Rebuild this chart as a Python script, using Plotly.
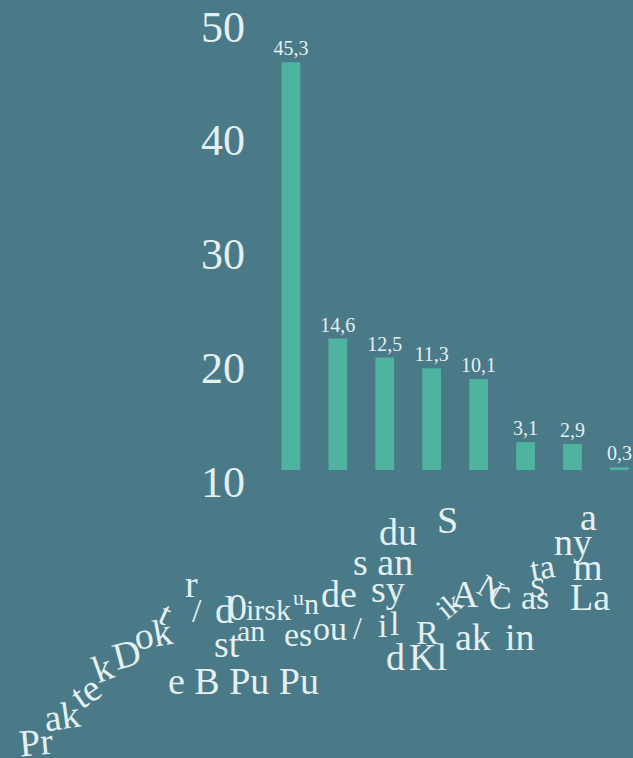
import plotly.graph_objects as go

# Outpatient care by type of facility (%)
categories = [
    "Praktek Dokter / Bidan",
    "Puskesmas / Pustu",
    "Poskesdes / Polindes",
    "Posyandu",
    "Rumah Sakit",
    "Klinik",
    "Praktek Nakes",
    "Lainnya",
]
values = [45.3, 14.6, 12.5, 11.3, 10.1, 3.1, 2.9, 0.3]
scale_ticks = [10, 20, 30, 40, 50]

BG = "#4a7987"
BAR = "#4eb4a0"
INK = "#e3f0f2"
SERIF = "Liberation Serif"

W, H = 633, 758
ML, MR, MT, MB = 250, 0, 0, 258
PW, PH = W - ML - MR, H - MT - MB

fig = go.Figure()
fig.add_trace(go.Bar(
    x=categories,
    y=values,
    width=0.4,
    marker=dict(color=BAR, line=dict(width=0)),
    texttemplate="%{y:.1f}",
    textposition="outside",
    constraintext="none",
    textfont=dict(family=SERIF, size=20, color=INK),
    cliponaxis=False,
    hoverinfo="skip",
))
# Carrier for the left-hand scale (draws nothing)
fig.add_trace(go.Scatter(
    x=categories, y=values, yaxis="y2",
    mode="markers", marker=dict(opacity=0),
    hoverinfo="skip",
))

# Category names mid-transition: scattered letter groups (text, x px, y px, angle, size)
fragments = [
    ("Pr", 36, 742, -5, 38), ("ak", 62, 716, -8, 38), ("te", 85, 692, -35, 38),
    ("k", 102, 668, -20, 38), ("D", 126, 654, -15, 38), ("ok", 153, 634, -10, 38),
    ("t", 166, 613, 25, 34), ("r", 191, 584, 0, 38), ("/", 197, 610, 0, 34),
    ("d", 224, 610, 0, 38), ("0", 237, 607, 0, 38), ("irsk", 268, 609, 0, 30),
    ("u", 298, 597, 0, 22), ("n", 311, 603, 0, 30),
    ("de", 339, 594, 0, 38), ("sy", 388, 589, 0, 38),
    ("st", 227, 644, 0, 38), ("an", 251, 630, 0, 30), ("es", 298, 634, 0, 34),
    ("ou", 330, 628, 0, 34), ("/", 357, 628, 0, 32), ("i", 382, 625, 0, 34),
    ("l", 394, 623, 0, 34),
    ("e B Pu Pu", 243, 681, 0, 38),
    ("d", 395, 657, 0, 38), ("Kl", 428, 657, 0, 38),
    ("R", 427, 632, 0, 34), ("ik", 448, 605, -40, 30),
    ("ak", 473, 637, 0, 38), ("in", 520, 637, 0, 38),
    ("A", 465, 594, 0, 38), ("N", 490, 588, 30, 32), ("C", 500, 597, 0, 34),
    ("ta", 542, 567, -10, 34), ("m", 588, 567, 0, 38),
    ("S", 538, 587, 0, 28), ("as", 535, 597, 0, 34), ("La", 590, 597, 0, 38),
    ("ny", 573, 542, 0, 38), ("a", 588, 517, 0, 38),
    ("S", 447, 520, 0, 38), ("du", 398, 532, 0, 38), ("s an", 383, 562, 0, 38),
]

annotations = []
for text, px, py, ang, size in fragments:
    annotations.append(dict(
        text=text,
        x=(px - ML) / PW, y=(H - MB - py) / PH,
        xref="paper", yref="paper",
        xanchor="center", yanchor="middle",
        textangle=ang, showarrow=False,
        font=dict(family=SERIF, size=size, color=INK),
    ))

fig.update_layout(
    width=W, height=H,
    margin=dict(l=ML, r=MR, t=MT, b=MB, pad=0),
    paper_bgcolor=BG, plot_bgcolor=BG,
    separators=",.",
    showlegend=False,
    bargap=0.6,
    xaxis=dict(
        type="category",
        range=[-0.872, 7.29],
        showticklabels=False, showgrid=False, zeroline=False,
        showline=False, ticks="",
    ),
    yaxis=dict(
        range=[-3.333, 52.222],
        visible=False, showgrid=False, zeroline=False,
    ),
    yaxis2=dict(
        overlaying="y", anchor="x", side="left",
        range=[8.34, 52.3],
        tickmode="array", tickvals=scale_ticks,
        ticktext=[str(t) for t in scale_ticks],
        showgrid=False, zeroline=False, showline=False, ticks="",
        tickfont=dict(family=SERIF, size=44, color=INK),
        ticklabelstandoff=4,
        ticklabeloverflow="allow",
    ),
    annotations=annotations,
)

fig.write_html("out.html")
